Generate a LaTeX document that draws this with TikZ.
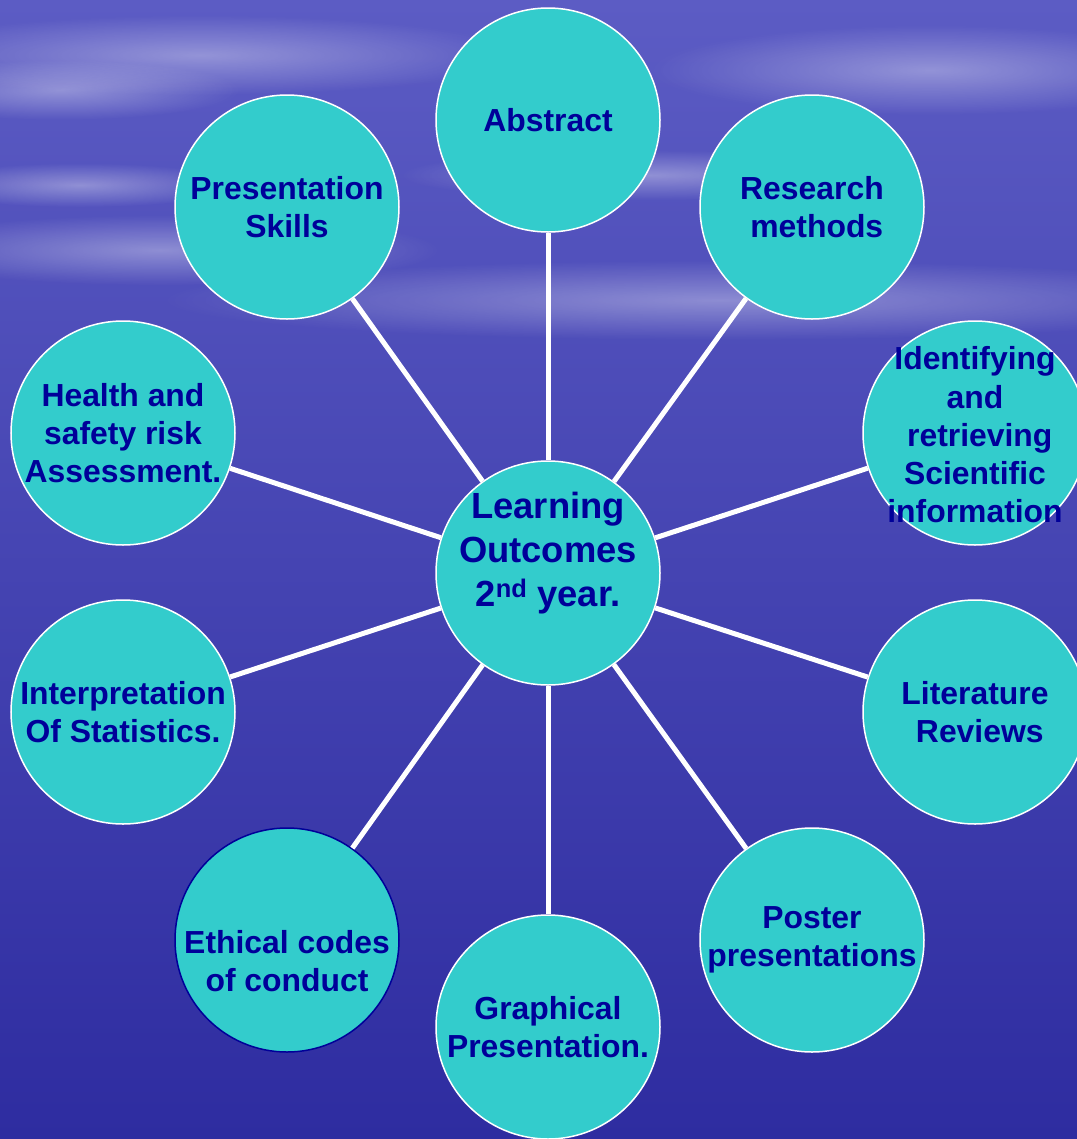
\documentclass[tikz,border=0pt]{standalone}
\usepackage{fontspec}
\setmainfont{Liberation Sans}
\usetikzlibrary{fadings}
\definecolor{ballfill}{RGB}{51,204,204}
\definecolor{inktext}{RGB}{0,0,153}
\definecolor{skytop}{RGB}{92,92,196}
\definecolor{skymid}{RGB}{74,74,182}
\definecolor{seabot}{RGB}{46,44,160}
\tikzfading[name=softblob,inner color=transparent!0,outer color=transparent!100]

\begin{document}
\begin{tikzpicture}[x=1bp,y=-1bp,
  ball/.style={circle,minimum size=224bp,inner sep=0pt,fill=ballfill,draw=white,line width=1.5bp,
    text=inktext,font=\bfseries\fontsize{32}{38.4}\selectfont,align=center},
  balltext/.style={text=inktext,font=\bfseries\fontsize{32}{38.4}\selectfont,align=center},
  spoke/.style={white,line width=5bp},
  cloud/.style={fill=white,fill opacity=0.35,path fading=softblob}]

\useasboundingbox (0,0) rectangle (1077,1139);
\clip (0,0) rectangle (1077,1139);

%drawing sky and sea
\shade[top color=skytop,middle color=skymid,bottom color=seabot] (0,0) rectangle (1077,1139);
\fill[cloud] (200,55) ellipse (320 and 40);
\fill[cloud] (60,90) ellipse (180 and 30);
\fill[cloud] (930,70) ellipse (280 and 45);
\fill[cloud] (160,250) ellipse (280 and 35);
\fill[cloud] (720,300) ellipse (560 and 40);
\fill[cloud] (80,185) ellipse (160 and 22);
\fill[cloud] (650,175) ellipse (250 and 25);

%drawing circles
\node[ball] (hub) at (548,573) {};
\node[balltext,font=\bfseries\fontsize{36.5}{44.5}\selectfont] (hubtext)
  at ([yshift=20bp]hub.center) {Learning\\Outcomes\\2\textsuperscript{nd} year.};

\node[ball] (abstract) at (548,120) {Abstract};
\node[ball] (research) at (812,207) {Research\\\hspace{0.3em}methods};
\node[ball] (identify) at (975,433) {};
\node[balltext] (identifytext) at ([yshift=-2bp]identify.center)
  {Identifying\\and\\\hspace{0.3em}retrieving\\Scientific\\information};
\node[ball] (literature) at (975,712) {Literature\\\hspace{0.3em}Reviews};
\node[ball] (poster) at (812,940) {Poster\\presentations};
\node[ball] (graphical) at (548,1027) {Graphical\\Presentation.};
\node[ball,draw=inktext] (ethical) at (287,940) {};
\node[balltext] (ethicaltext) at ([yshift=-21bp]ethical.center) {Ethical codes\\of conduct};
\node[ball] (interp) at (123,712) {Interpretation\\Of Statistics.};
\node[ball] (health) at (123,433) {Health and\\safety risk\\Assessment.};
\node[ball] (skills) at (287,207) {Presentation\\Skills};

%connecting them
\draw[spoke] (hub) -- (abstract);
\draw[spoke] (hub) -- (research);
\draw[spoke] (hub) -- (identify);
\draw[spoke] (hub) -- (literature);
\draw[spoke] (hub) -- (poster);
\draw[spoke] (hub) -- (graphical);
\draw[spoke] (hub) -- (ethical);
\draw[spoke] (hub) -- (interp);
\draw[spoke] (hub) -- (health);
\draw[spoke] (hub) -- (skills);
\end{tikzpicture}
\end{document}
